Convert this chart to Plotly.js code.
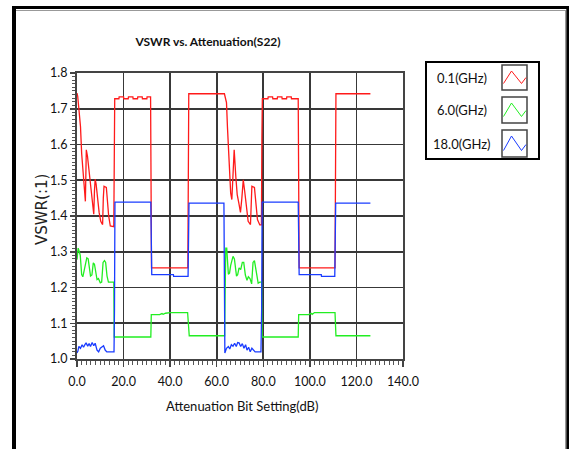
<!DOCTYPE html>
<html>
<head>
<meta charset="utf-8">
<script src="https://cdn.plot.ly/plotly-3.0.1.min.js"></script>
<style>
html,body{margin:0;padding:0;background:#fff;}
#chart{width:569px;height:449px;}
</style>
</head>
<body>
<div id="chart"></div>
<script>
// ---- data ----
const seriesNames = ["0.1(GHz)", "6.0(GHz)", "18.0(GHz)"];

const redX = [0,0.3,0.8,1.5,2.0,2.6,3.2,3.6,3.8,4.0,4.5,5.2,6.0,6.6,7.2,7.5,7.8,8.2,8.8,9.5,10.2,11.0,11.3,11.6,12.6,13.0,13.6,14.3,15.8,16.0,16.2,
  18,18.1,20,20.1,22,22.1,24,24.1,26,26.1,28,28.1,30,30.1,31.6,31.8,32.0,47.6,47.8,48.0,63.3,63.6,
  64.2,64.6,65.0,65.4,66.0,66.5,67.0,67.5,68.2,68.8,69.5,70.2,70.8,71.4,72.0,72.8,73.5,74.5,74.8,75.1,76.2,76.8,77.5,78.5,79.2,79.4,79.6,
  82,82.1,84,84.1,86,86.1,88,88.1,90,90.1,92,92.1,95.0,95.2,95.4,110.8,111.0,111.2,126];
const redY = [1.744,1.735,1.70,1.65,1.575,1.51,1.475,1.441,1.53,1.585,1.567,1.52,1.47,1.43,1.405,1.47,1.503,1.49,1.45,1.41,1.385,1.376,1.45,1.483,1.48,1.45,1.40,1.372,1.37,1.55,1.728,
  1.728,1.733,1.733,1.728,1.728,1.733,1.733,1.728,1.728,1.733,1.733,1.728,1.728,1.733,1.733,1.50,1.255,1.255,1.62,1.742,1.742,1.735,
  1.717,1.65,1.604,1.53,1.464,1.446,1.53,1.585,1.51,1.46,1.436,1.41,1.45,1.501,1.47,1.42,1.385,1.376,1.45,1.483,1.48,1.43,1.39,1.375,1.375,1.62,1.728,
  1.728,1.733,1.733,1.728,1.728,1.733,1.733,1.728,1.728,1.733,1.733,1.728,1.728,1.49,1.255,1.255,1.50,1.742,1.742];

const greenX = [0,0.5,1.0,1.4,2.0,2.5,3.0,3.6,4.2,4.8,5.4,5.8,6.4,7.0,7.5,8.0,8.6,9.2,10.0,10.6,11.2,11.8,12.3,12.9,13.5,15.8,16.0,
  31.7,31.9,35.5,36.5,37.0,38.0,40.0,47.5,48.2,63.4,63.6,63.9,64.3,65.0,65.5,66.0,67.0,67.6,68.5,69.0,69.6,70.3,71.0,71.6,72.3,73.0,73.6,74.3,75.0,75.6,76.2,76.8,77.8,78.5,79.3,79.5,
  95.0,95.2,99.5,100.5,101.0,102.0,110.8,111.2,126];
const greenY = [1.278,1.31,1.30,1.29,1.236,1.23,1.245,1.264,1.283,1.28,1.24,1.232,1.235,1.269,1.265,1.24,1.222,1.225,1.213,1.215,1.27,1.275,1.27,1.232,1.215,1.215,1.0615,
  1.0615,1.124,1.124,1.127,1.125,1.128,1.13,1.13,1.065,1.065,1.175,1.31,1.31,1.237,1.24,1.262,1.287,1.28,1.232,1.236,1.255,1.25,1.27,1.27,1.235,1.22,1.23,1.225,1.21,1.27,1.275,1.25,1.212,1.215,1.215,1.0615,
  1.0615,1.124,1.124,1.128,1.125,1.13,1.13,1.065,1.065];

const blueX = [0,0.4,0.8,1.5,2.2,2.8,3.4,3.9,4.6,5.2,5.8,6.5,7.2,7.8,8.6,9.3,10.0,10.7,11.4,12.1,12.8,14.0,15.9,16.1,16.3,
  31.7,31.9,32.1,41.4,41.5,47.7,47.9,48.1,63.1,63.3,63.5,64.2,65.0,65.6,66.3,67.0,67.7,68.4,69.0,69.6,70.3,71.0,71.7,72.4,73.0,73.7,74.4,75.1,75.8,76.5,79.0,79.3,79.5,
  95.0,95.2,95.4,104.9,105.0,110.7,110.9,111.1,126];
const blueY = [1.017,1.022,1.035,1.03,1.04,1.033,1.04,1.045,1.036,1.043,1.035,1.046,1.037,1.044,1.025,1.02,1.03,1.035,1.037,1.025,1.02,1.02,1.02,1.14,1.439,
  1.439,1.34,1.236,1.236,1.231,1.231,1.40,1.436,1.436,1.20,1.017,1.03,1.035,1.028,1.04,1.036,1.044,1.035,1.046,1.045,1.035,1.043,1.03,1.04,1.025,1.033,1.02,1.03,1.025,1.02,1.02,1.14,1.439,
  1.439,1.34,1.236,1.236,1.231,1.231,1.35,1.436,1.436];

const xTickVals = [0,20,40,60,80,100,120,140];
const yTickVals = [1.0,1.1,1.2,1.3,1.4,1.5,1.6,1.7,1.8];

// ---- layout helpers (pixel -> paper) ----
const W = 569, H = 449, ML = 77, MR = 166, MT = 73, MB = 90;
const PW = W - ML - MR, PH = H - MT - MB;
const px = p => (p - ML) / PW;
const py = p => (H - MB - p) / PH;

const FONT = "Lato, Liberation Sans, sans-serif";
const colors = ["#ff1a1a", "#22ee22", "#1a3cff"];

const traces = [
  {x: redX, y: redY, name: seriesNames[0], mode: "lines", line: {color: colors[0], width: 1.3}},
  {x: greenX, y: greenY, name: seriesNames[1], mode: "lines", line: {color: colors[1], width: 1.3}},
  {x: blueX, y: blueY, name: seriesNames[2], mode: "lines", line: {color: colors[2], width: 1.3}}
];

const shapes = [];
// outer frame
shapes.push({type:"line", xref:"paper", yref:"paper", x0:px(12), x1:px(569), y0:py(7.5), y1:py(7.5), line:{color:"#000", width:3}});
shapes.push({type:"line", xref:"paper", yref:"paper", x0:px(16), x1:px(566), y0:py(10.5), y1:py(10.5), line:{color:"#999", width:1}});
shapes.push({type:"line", xref:"paper", yref:"paper", x0:px(14), x1:px(14), y0:py(6), y1:py(449), line:{color:"#000", width:4}});
shapes.push({type:"line", xref:"paper", yref:"paper", x0:px(567.8), x1:px(567.8), y0:py(6), y1:py(449), line:{color:"#000", width:3}});
shapes.push({type:"line", xref:"paper", yref:"paper", x0:px(565.5), x1:px(565.5), y0:py(10), y1:py(449), line:{color:"#999", width:1}});
// legend box
shapes.push({type:"rect", xref:"paper", yref:"paper", x0:px(426), x1:px(539), y0:py(62), y1:py(159), line:{color:"#000", width:2}});
const rowTops = [65, 97, 130];
const annotations = [];
rowTops.forEach((t, i) => {
  const bx = 502, bh = (i === 0 ? 25 : (i === 1 ? 26 : 27));
  shapes.push({type:"rect", xref:"paper", yref:"paper", x0:px(bx), x1:px(bx+25), y0:py(t), y1:py(t+bh), line:{color:"#444", width:1.5}});
  const pts = [[bx+1.5, t+bh-6.5], [bx+9.5, t+6], [bx+19.5, t+bh-6.5], [bx+24, t+bh-12.5]];
  const path = "M" + pts.map(p => px(p[0]) + "," + py(p[1])).join(" L");
  shapes.push({type:"path", xref:"paper", yref:"paper", path: path, line:{color: colors[i], width:1}});
  annotations.push({xref:"paper", yref:"paper", x:px(462), y:py(t + bh/2), text: seriesNames[i], showarrow:false,
    xanchor:"center", yanchor:"middle", font:{family:FONT, size:13, color:"#111"}});
});
// axis titles
annotations.push({xref:"paper", yref:"paper", x:px(242), y:py(406), text:"Attenuation Bit Setting(dB)", showarrow:false,
  xanchor:"center", yanchor:"middle", font:{family:FONT, size:13, color:"#111"}});
annotations.push({xref:"paper", yref:"paper", x:px(42), y:py(210), text:"VSWR(:1)", showarrow:false, textangle:-90,
  xanchor:"center", yanchor:"middle", font:{family:"DejaVu Sans, sans-serif", size:15, color:"#222"}});

const layout = {
  width: W, height: H,
  margin: {l: ML, r: MR, t: MT, b: MB, pad: 0},
  paper_bgcolor: "#fff", plot_bgcolor: "#fff",
  showlegend: false,
  title: {text: "<b>VSWR vs. Attenuation(S22)</b>", xref: "paper", x: px(208), xanchor: "center",
          yref: "container", y: 1 - 42/H, yanchor: "middle",
          font: {family: FONT, size: 12, color: "#111"}},
  xaxis: {range: [0, 140], tickvals: xTickVals, ticktext: xTickVals.map(v => v.toFixed(1)),
          showgrid: true, gridcolor: "#383838", gridwidth: 1.8, zeroline: false,
          showline: true, linecolor: "#444", linewidth: 2, mirror: true,
          ticks: "outside", ticklen: 6, tickcolor: "#444", tickwidth: 1.5,
          ticklabelstandoff: 4,
          minor: {dtick: 2, ticks: "outside", ticklen: 4, tickcolor: "#555", tickwidth: 1, showgrid: false},
          tickfont: {family: FONT, size: 12.5, color: "#111"}, fixedrange: true},
  yaxis: {range: [1.0, 1.8], tickvals: yTickVals, ticktext: yTickVals.map(v => v.toFixed(1)),
          showgrid: true, gridcolor: "#383838", gridwidth: 1.8, zeroline: false,
          showline: true, linecolor: "#444", linewidth: 2, mirror: true,
          ticks: "outside", ticklen: 5, tickcolor: "#444", tickwidth: 1.5,
          minor: {dtick: 0.01, ticks: "outside", ticklen: 3, tickcolor: "#555", tickwidth: 1, showgrid: false},
          tickfont: {family: FONT, size: 12.5, color: "#111"}, fixedrange: true},
  shapes: shapes,
  annotations: annotations
};

Plotly.newPlot("chart", traces, layout, {displayModeBar: false, staticPlot: true});
</script>
</body>
</html>
